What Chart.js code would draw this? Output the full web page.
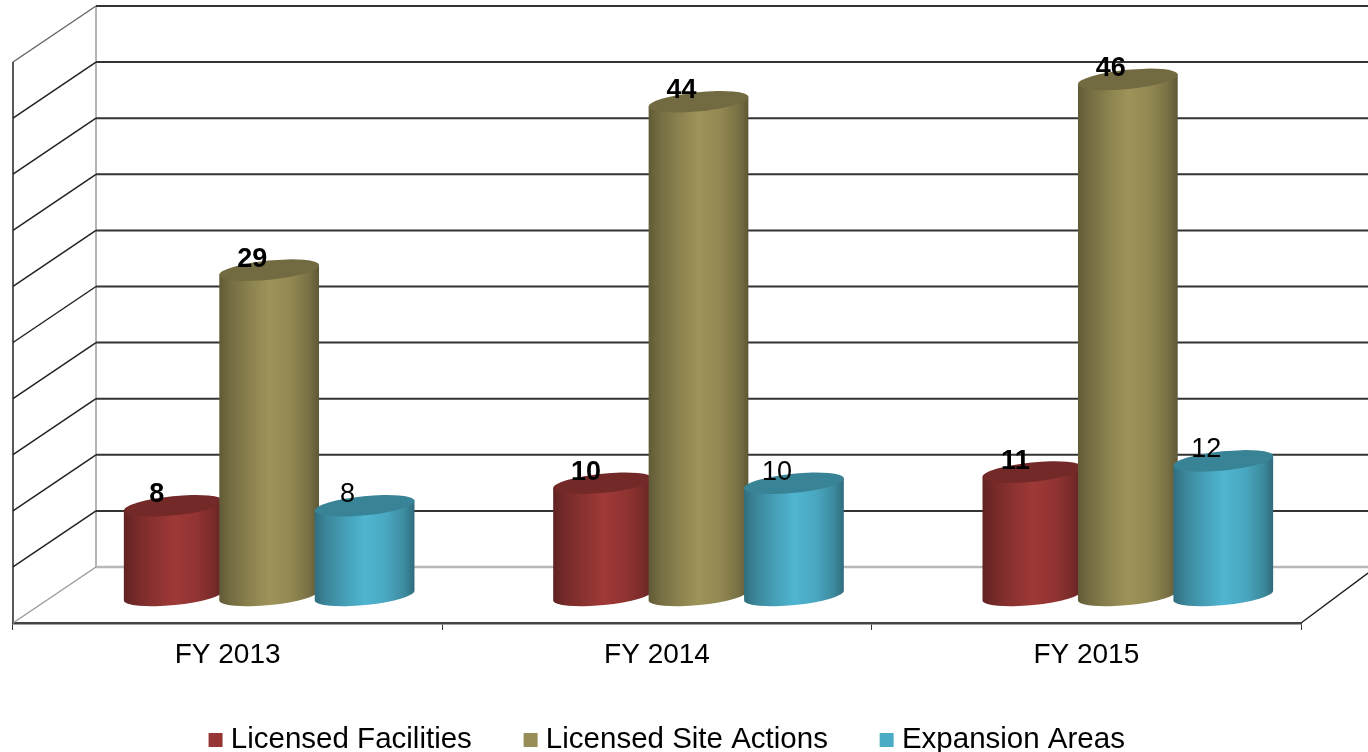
<!DOCTYPE html>
<html><head><meta charset="utf-8">
<style>html,body{margin:0;padding:0;background:#fff}canvas{display:block}</style>
<script src="https://cdn.jsdelivr.net/npm/chart.js@4"></script>
</head><body>
<canvas id="c" width="1368" height="752"></canvas>
<script>
const categories = ["FY 2013", "FY 2014", "FY 2015"];
const licensedFacilities = [8, 10, 11];
const licensedSiteActions = [29, 44, 46];
const expansionAreas = [8, 10, 12];
const seriesColors = ["#963634", "#968C55", "#4BACC6"];
const yTickStep = 5, yMax = 50;
const FONT = '"Liberation Sans", Arial, sans-serif';
const DEPTH_X = 83, DEPTH_Y = 56;

function shade(hex, f) {
  const n = parseInt(hex.slice(1), 16);
  const c = [n >> 16 & 255, n >> 8 & 255, n & 255].map(v => Math.min(255, Math.round(v * f)));
  return `rgb(${c[0]},${c[1]},${c[2]})`;
}
const TILT = -5.7 * Math.PI / 180, RY = 9.6;
function drawCylinder(ctx, el) {
  const color = el.options.backgroundColor;
  const cx = el.x + DEPTH_X / 2, a = el.width / 2;
  const top = el.y - DEPTH_Y / 2 + 0.5, bot = el.base - DEPTH_Y / 2 + 0.5;
  const ax = a * Math.cos(TILT), ay = a * Math.sin(TILT);
  const g = ctx.createLinearGradient(cx - a, 0, cx + a, 0);
  g.addColorStop(0, shade(color, .64));
  g.addColorStop(.12, shade(color, .78));
  g.addColorStop(.3, shade(color, .92));
  g.addColorStop(.5, shade(color, 1.05));
  g.addColorStop(.72, shade(color, .97));
  g.addColorStop(.9, shade(color, .8));
  g.addColorStop(1, shade(color, .62));
  ctx.save();
  ctx.fillStyle = g;
  ctx.beginPath();
  ctx.moveTo(cx - ax, top - ay);
  ctx.lineTo(cx + ax, top + ay);
  ctx.lineTo(cx + ax, bot + ay);
  ctx.ellipse(cx, bot, a, RY, TILT, 0, Math.PI);
  ctx.closePath();
  ctx.fill();
  ctx.fillStyle = shade(color, .76);
  ctx.beginPath();
  ctx.ellipse(cx, top, a, RY, TILT, 0, Math.PI * 2);
  ctx.fill();
  ctx.restore();
}
// Chart.js paints later datasets first; the cylinders must overlap left to right,
// so each bar element is painted by the plugin below, in dataset order.
Chart.BarElement.prototype.draw = function () {};

const wallsPlugin = {
  id: 'walls',
  beforeDatasetsDraw(chart) {
    const { ctx, chartArea: ca, scales: { y } } = chart;
    ctx.save();
    ctx.lineCap = 'butt';
    ctx.strokeStyle = '#b4b4b4'; ctx.lineWidth = 2;
    ctx.beginPath(); ctx.moveTo(ca.left + DEPTH_X, y.getPixelForValue(yMax) - DEPTH_Y);
    ctx.lineTo(ca.left + DEPTH_X, y.getPixelForValue(0) - DEPTH_Y); ctx.stroke();
    ctx.strokeStyle = '#222'; ctx.lineWidth = 1.5;
    ctx.beginPath(); ctx.moveTo(ca.left, y.getPixelForValue(yMax)); ctx.lineTo(ca.left, ca.bottom); ctx.stroke();
    y.ticks.forEach(t => {
      const py = y.getPixelForValue(t.value);
      const zero = t.value === 0, last = t.value === yMax;
      ctx.strokeStyle = zero ? '#b8b8b8' : '#333';
      ctx.lineWidth = zero ? 2.5 : 2;
      ctx.beginPath(); ctx.moveTo(ca.left + DEPTH_X, py - DEPTH_Y); ctx.lineTo(1368, py - DEPTH_Y); ctx.stroke();
      ctx.strokeStyle = zero ? '#9a9a9a' : (last ? '#666' : '#222');
      ctx.lineWidth = 1.5;
      ctx.beginPath(); ctx.moveTo(ca.left, py); ctx.lineTo(ca.left + DEPTH_X, py - DEPTH_Y); ctx.stroke();
    });
    ctx.strokeStyle = '#222'; ctx.lineWidth = 1.5;
    ctx.beginPath(); ctx.moveTo(ca.right, ca.bottom); ctx.lineTo(1368, ca.bottom - 50); ctx.stroke();
    ctx.restore();
  }
};
const cylindersAndLabels = {
  id: 'cylindersAndLabels',
  afterDatasetsDraw(chart) {
    const { ctx } = chart;
    chart.data.datasets.forEach((ds, i) => {
      chart.getDatasetMeta(i).data.forEach(el => drawCylinder(ctx, el));
    });
    ctx.save();
    ctx.textAlign = 'center'; ctx.textBaseline = 'middle'; ctx.fillStyle = '#000';
    chart.data.datasets.forEach((ds, i) => {
      ctx.font = (i < 2 ? 'bold ' : '') + '27px ' + FONT;
      chart.getDatasetMeta(i).data.forEach((el, j) => {
        ctx.fillText(String(ds.data[j]), el.x + DEPTH_X / 2 - 17, el.y - DEPTH_Y / 2 - 10.5);
      });
    });
    ctx.restore();
  }
};
const legendShift = {
  id: 'legendShift',
  afterLayout(chart) {
    const l = chart.legend;
    l.left += 13; l.right += 13;
    l.top -= 12.5; l.bottom -= 12.5;
  }
};

new Chart(document.getElementById('c'), {
  type: 'bar',
  data: {
    labels: categories,
    datasets: [
      { label: 'Licensed Facilities', data: licensedFacilities, backgroundColor: seriesColors[0], borderWidth: 0 },
      { label: 'Licensed Site Actions', data: licensedSiteActions, backgroundColor: seriesColors[1], borderWidth: 0 },
      { label: 'Expansion Areas', data: expansionAreas, backgroundColor: seriesColors[2], borderWidth: 0 }
    ]
  },
  plugins: [wallsPlugin, cylindersAndLabels, legendShift],
  options: {
    responsive: false,
    animation: false,
    devicePixelRatio: 1,
    categoryPercentage: 0.667,
    barPercentage: 1.05,
    layout: { padding: { left: 13, right: 67, top: 62, bottom: -25.35 } },
    scales: {
      x: {
        grid: { offset: true, drawOnChartArea: false, drawTicks: true, tickLength: 7, tickColor: '#333', tickWidth: 1 },
        border: { display: true, color: '#444', width: 2.5 },
        ticks: { color: '#000', font: { family: FONT, size: 28 }, padding: 8, maxRotation: 0 }
      },
      y: {
        display: false, min: 0, max: yMax,
        ticks: { stepSize: yTickStep }
      }
    },
    plugins: {
      legend: {
        position: 'bottom',
        labels: {
          color: '#000', font: { family: FONT, size: 29.5 },
          usePointStyle: true, pointStyle: 'rect', boxWidth: 1, boxHeight: 14, padding: 58.25
        }
      },
      tooltip: { enabled: false }
    }
  }
});
</script>
</body></html>
